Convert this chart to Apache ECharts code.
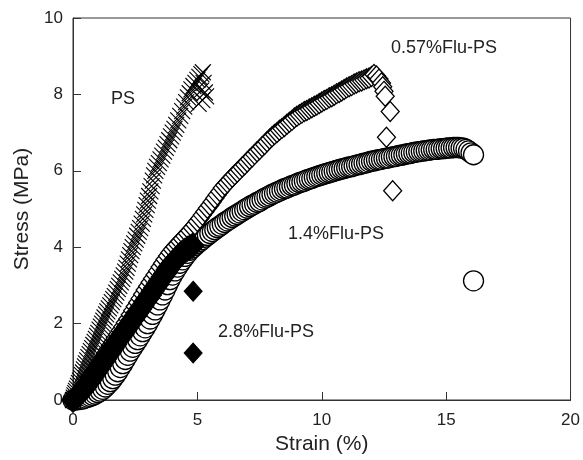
<!DOCTYPE html>
<html>
<head>
<meta charset="utf-8">
<script src="https://cdn.jsdelivr.net/npm/echarts@6/dist/echarts.min.js"></script>
<style>
  html, body { margin: 0; padding: 0; background: #fff; }
  #chart { width: 583px; height: 460px; }
</style>
</head>
<body>
<div id="chart"></div>
<script>
// 读图得到的数据 [应变 %, 应力 MPa]
const psData = [
  [0,0],[0.03,0.06],[0.06,0.12],[0.09,0.18],[0.12,0.24],[0.16,0.3],[0.2,0.37],[0.24,0.44],[0.28,0.51],[0.32,0.58],
  [0.36,0.65],[0.4,0.72],[0.44,0.8],[0.48,0.88],[0.52,0.96],[0.57,1.04],[0.62,1.12],[0.67,1.2],[0.72,1.28],[0.77,1.36],
  [0.82,1.44],[0.87,1.52],[0.92,1.6],[0.97,1.68],[1.02,1.76],[1.07,1.84],[1.12,1.92],[1.17,2.0],[1.22,2.08],[1.27,2.16],
  [1.33,2.24],[1.38,2.32],[1.44,2.4],[1.5,2.48],[1.56,2.56],[1.62,2.64],[1.68,2.72],[1.74,2.81],[1.8,2.9],[1.86,2.99],
  [1.92,3.08],[1.98,3.17],[2.04,3.26],[2.1,3.36],[2.15,3.46],[2.2,3.57],[2.25,3.68],[2.3,3.79],[2.35,3.9],[2.4,4.0],
  [2.46,4.1],[2.52,4.2],[2.58,4.3],[2.64,4.4],[2.7,4.5],[2.76,4.62],[2.81,4.74],[2.86,4.86],[2.91,4.98],[2.96,5.1],
  [3.01,5.22],[3.06,5.34],[3.11,5.46],[3.16,5.6],[3.21,5.74],[3.26,5.88],[3.31,6.0],[3.38,6.1],[3.45,6.2],[3.52,6.3],
  [3.59,6.4],[3.66,6.5],[3.73,6.6],[3.8,6.7],[3.87,6.8],[3.94,6.9],[4.01,7.0],[4.08,7.1],[4.15,7.2],[4.23,7.32],
  [4.31,7.44],[4.39,7.56],[4.47,7.68],[4.55,7.8],[4.62,7.92],[4.69,8.03],[4.76,8.13],[4.84,8.22],[4.92,8.3],[5.0,8.38],
  [5.08,8.46],[5.16,8.53],[5.22,8.58],[5.25,8.3],[5.3,8.05],[5.2,7.85],[5.05,7.75],[5.35,7.95],[5.15,8.1]
];
const flu057Data = [
  [0,0],[0.1,0.06],[0.2,0.14],[0.3,0.23],[0.4,0.32],[0.5,0.42],[0.6,0.52],[0.7,0.62],[0.8,0.72],[0.9,0.82],
  [1.0,0.92],[1.1,1.02],[1.2,1.12],[1.3,1.22],[1.4,1.32],[1.5,1.42],[1.6,1.52],[1.7,1.62],[1.8,1.72],[1.9,1.82],
  [2.0,1.92],[2.1,2.02],[2.2,2.12],[2.3,2.23],[2.4,2.34],[2.5,2.45],[2.6,2.55],[2.7,2.66],[2.8,2.77],[2.9,2.88],
  [3.0,2.98],[3.1,3.08],[3.2,3.18],[3.3,3.28],[3.4,3.38],[3.5,3.48],[3.6,3.58],[3.7,3.68],[3.8,3.77],[3.9,3.86],
  [4.0,3.94],[4.1,4.01],[4.2,4.08],[4.3,4.15],[4.4,4.22],[4.5,4.29],[4.6,4.36],[4.7,4.43],[4.8,4.51],[4.9,4.59],
  [5.0,4.67],[5.1,4.75],[5.2,4.84],[5.3,4.93],[5.4,5.02],[5.5,5.1],[5.6,5.19],[5.7,5.28],[5.8,5.37],[5.9,5.46],
  [6.0,5.55],[6.1,5.62],[6.2,5.69],[6.3,5.76],[6.4,5.83],[6.5,5.9],[6.6,5.96],[6.7,6.03],[6.8,6.1],[6.9,6.16],
  [7.0,6.23],[7.1,6.3],[7.2,6.36],[7.3,6.43],[7.4,6.5],[7.5,6.56],[7.6,6.63],[7.7,6.69],[7.8,6.76],[7.9,6.83],
  [8.0,6.89],[8.1,6.95],[8.2,7.0],[8.3,7.06],[8.4,7.11],[8.5,7.16],[8.6,7.22],[8.7,7.27],[8.8,7.32],[8.9,7.38],
  [9.0,7.43],[9.1,7.47],[9.2,7.51],[9.3,7.55],[9.4,7.58],[9.5,7.62],[9.6,7.65],[9.7,7.69],[9.8,7.72],[9.9,7.76],
  [10.0,7.8],[10.1,7.84],[10.2,7.87],[10.3,7.91],[10.4,7.94],[10.5,7.98],[10.6,8.02],[10.7,8.05],[10.8,8.09],[10.9,8.13],
  [11.0,8.17],[11.1,8.2],[11.2,8.23],[11.3,8.27],[11.4,8.3],[11.5,8.33],[11.6,8.35],[11.7,8.38],[11.8,8.41],[11.9,8.43],
  [12.0,8.47],[12.1,8.52],[12.2,8.48],[12.3,8.4],[12.4,8.3],[12.45,8.2],[12.5,8.08],[12.55,7.95],
  [12.75,7.55],[12.6,6.88],[12.85,5.48]
];
const flu14Data = [
  [0,0],[0.1,0.0],[0.2,0.01],[0.3,0.02],[0.4,0.03],[0.5,0.05],[0.6,0.07],[0.7,0.09],[0.8,0.12],[0.9,0.15],
  [1.0,0.19],[1.1,0.23],[1.2,0.28],[1.3,0.34],[1.4,0.41],[1.5,0.48],[1.6,0.56],[1.7,0.65],[1.8,0.74],[1.9,0.85],
  [2.0,0.95],[2.1,1.06],[2.2,1.17],[2.3,1.28],[2.4,1.38],[2.5,1.48],[2.6,1.58],[2.7,1.68],[2.8,1.79],[2.9,1.89],
  [3.0,2.0],[3.1,2.12],[3.2,2.24],[3.3,2.36],[3.4,2.49],[3.5,2.62],[3.6,2.75],[3.7,2.88],[3.8,3.02],[3.9,3.15],
  [4.0,3.27],[4.1,3.38],[4.2,3.48],[4.3,3.58],[4.4,3.67],[4.5,3.76],[4.6,3.84],[4.7,3.92],[4.8,3.98],[4.9,4.04],
  [5.0,4.1],[5.1,4.15],[5.2,4.2],[5.3,4.26],[5.4,4.31],[5.5,4.36],[5.6,4.41],[5.7,4.46],[5.8,4.51],[5.9,4.55],
  [6.0,4.6],[6.1,4.65],[6.2,4.69],[6.3,4.73],[6.4,4.78],[6.5,4.82],[6.6,4.86],[6.7,4.9],[6.8,4.94],[6.9,4.98],
  [7.0,5.02],[7.1,5.06],[7.2,5.1],[7.3,5.13],[7.4,5.17],[7.5,5.2],[7.6,5.24],[7.7,5.28],[7.8,5.31],[7.9,5.34],
  [8.0,5.38],[8.1,5.41],[8.2,5.44],[8.3,5.47],[8.4,5.5],[8.5,5.53],[8.6,5.55],[8.7,5.58],[8.8,5.61],[8.9,5.63],
  [9.0,5.66],[9.1,5.69],[9.2,5.71],[9.3,5.73],[9.4,5.76],[9.5,5.78],[9.6,5.8],[9.7,5.83],[9.8,5.85],[9.9,5.87],
  [10.0,5.89],[10.1,5.91],[10.2,5.93],[10.3,5.95],[10.4,5.97],[10.5,5.99],[10.6,6.01],[10.7,6.03],[10.8,6.05],[10.9,6.06],
  [11.0,6.08],[11.1,6.1],[11.2,6.11],[11.3,6.13],[11.4,6.15],[11.5,6.16],[11.6,6.18],[11.7,6.2],[11.8,6.21],[11.9,6.23],
  [12.0,6.25],[12.1,6.26],[12.2,6.28],[12.3,6.29],[12.4,6.3],[12.5,6.32],[12.6,6.33],[12.7,6.34],[12.8,6.36],[12.9,6.37],
  [13.0,6.38],[13.1,6.4],[13.2,6.41],[13.3,6.42],[13.4,6.44],[13.5,6.45],[13.6,6.46],[13.7,6.48],[13.8,6.49],[13.9,6.5],
  [14.0,6.51],[14.1,6.52],[14.2,6.53],[14.3,6.54],[14.4,6.55],[14.5,6.56],[14.6,6.56],[14.7,6.57],[14.8,6.58],[14.9,6.58],
  [15.0,6.59],[15.1,6.6],[15.2,6.6],[15.3,6.61],[15.4,6.61],[15.5,6.61],[15.6,6.6],[15.7,6.59],[15.8,6.56],[15.9,6.52],
  [16.0,6.47],[16.1,6.42],[16.1,3.12]
];
// 2.8%Flu-PS：连续段 + 断裂后的两个点
const flu28Curve = [
  [0,0],[0.1,0.05],[0.2,0.11],[0.3,0.18],[0.4,0.26],[0.5,0.34],[0.6,0.43],[0.7,0.52],[0.8,0.61],[0.9,0.71],
  [1.0,0.8],[1.1,0.89],[1.2,0.99],[1.3,1.08],[1.4,1.18],[1.5,1.27],[1.6,1.36],[1.7,1.46],[1.8,1.55],[1.9,1.64],
  [2.0,1.73],[2.1,1.82],[2.2,1.91],[2.3,2.0],[2.4,2.1],[2.5,2.19],[2.6,2.29],[2.7,2.38],[2.8,2.47],[2.9,2.57],
  [3.0,2.66],[3.1,2.75],[3.2,2.85],[3.3,2.94],[3.4,3.03],[3.5,3.13],[3.6,3.22],[3.7,3.31],[3.8,3.41],[3.9,3.5],
  [4.0,3.58],[4.1,3.66],[4.2,3.73],[4.3,3.8],[4.4,3.86],[4.5,3.91],[4.6,3.96],[4.7,4.0],[4.8,4.04]
];
const flu28Break = [[4.83,2.85],[4.83,1.23]];
const xTicks = [0, 5, 10, 15, 20];
const yTicks = [0, 2, 4, 6, 8, 10];
const seriesNames = ['PS', '0.57%Flu-PS', '1.4%Flu-PS', '2.8%Flu-PS'];

const font = 'Liberation Sans, Arial, sans-serif';
const myChart = echarts.init(document.getElementById('chart'));

const openStyle = { color: '#fff', borderColor: '#000', borderWidth: 1.3, opacity: 1 };
const filledStyle = { color: '#000', borderColor: '#000', borderWidth: 1, opacity: 1 };

const option = {
  animation: false,
  backgroundColor: '#fff',
  grid: {
    left: 73, right: 9, top: 18, bottom: 60,
    show: true, borderColor: '#333', borderWidth: 1
  },
  xAxis: {
    type: 'value', min: xTicks[0], max: xTicks[xTicks.length - 1], interval: 5,
    name: 'Strain (%)', nameLocation: 'middle', nameGap: 32,
    nameTextStyle: { fontFamily: font, fontSize: 21, color: '#222' },
    axisLine: { lineStyle: { color: '#333', width: 1 } },
    axisTick: { inside: true, length: 8, lineStyle: { color: '#333' } },
    axisLabel: { fontFamily: font, fontSize: 17, color: '#222', margin: 12 },
    splitLine: { show: false }
  },
  yAxis: {
    type: 'value', min: yTicks[0], max: yTicks[yTicks.length - 1], interval: 2,
    name: 'Stress (MPa)', nameLocation: 'middle', nameGap: 40,
    nameTextStyle: { fontFamily: font, fontSize: 21, color: '#222' },
    axisLine: { lineStyle: { color: '#333', width: 1 } },
    axisTick: { inside: true, length: 8, lineStyle: { color: '#333' } },
    axisLabel: { fontFamily: font, fontSize: 17, color: '#222', margin: 10 },
    splitLine: { show: false }
  },
  series: [
    {
      name: seriesNames[2], type: 'scatter', data: flu14Data,
      symbol: 'circle', symbolSize: 20, itemStyle: openStyle
    },
    {
      name: seriesNames[1], type: 'scatter', data: flu057Data,
      symbol: 'diamond', symbolSize: [18, 20], itemStyle: openStyle
    },
    {
      name: seriesNames[3], type: 'scatter', data: flu28Curve,
      symbol: 'diamond', symbolSize: [23, 25], itemStyle: filledStyle
    },
    {
      name: seriesNames[3], type: 'scatter', data: flu28Break,
      symbol: 'diamond', symbolSize: [18, 20], itemStyle: filledStyle
    },
    {
      name: seriesNames[0], type: 'scatter', data: psData,
      symbol: 'path://M0,0L10,10M10,0L0,10', symbolSize: 16,
      itemStyle: { color: 'rgba(0,0,0,0)', borderColor: '#000', borderWidth: 1.1, opacity: 1 }
    }
  ],
  graphic: [
    { type: 'text', left: 111, top: 90, style: { text: seriesNames[0], font: '18px ' + font, fill: '#222' } },
    { type: 'text', left: 391, top: 39, style: { text: seriesNames[1], font: '18px ' + font, fill: '#222' } },
    { type: 'text', left: 288, top: 225, style: { text: seriesNames[2], font: '18px ' + font, fill: '#222' } },
    { type: 'text', left: 218, top: 323, style: { text: seriesNames[3], font: '18px ' + font, fill: '#222' } }
  ]
};

myChart.setOption(option);
window.addEventListener('resize', function () {
  myChart.resize();
});
</script>
</body>
</html>
